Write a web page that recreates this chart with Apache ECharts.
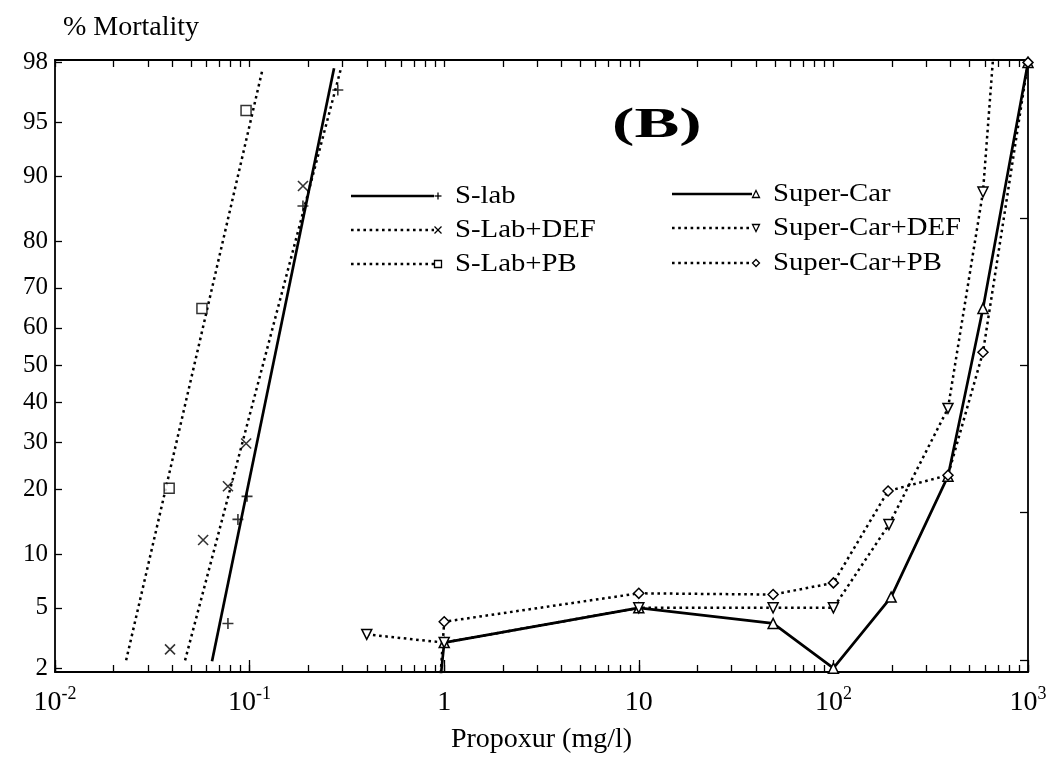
<!DOCTYPE html>
<html>
<head>
<meta charset="utf-8">
<script src="https://cdn.jsdelivr.net/npm/echarts@6/dist/echarts.min.js"></script>
<style>
  html, body { margin: 0; padding: 0; background: #fff; }
  #chart { width: 1061px; height: 763px; }
</style>
</head>
<body>
<div id="chart"></div>
<script>
// Propoxur dose (mg/l) against % mortality for each strain / synergist combination

// S-lab: observed points and fitted probit line
const sLabDose = [0.0774, 0.0871, 0.097, 0.188, 0.284];
const sLabMort = [4, 14.8, 18.7, 86, 96.9];
const sLabFitDose = [0.0641, 0.2716];
const sLabFitMort = [2.24, 97.8];

// S-Lab+DEF
const sLabDefDose = [0.039, 0.0577, 0.0774, 0.096, 0.188];
const sLabDefMort = [2.7, 11.8, 20.6, 29.8, 88.8];
const sLabDefFitDose = [0.0466, 0.295];
const sLabDefFitMort = [2.27, 97.8];

// S-Lab+PB
const sLabPbDose = [0.0386, 0.0569, 0.0959];
const sLabPbMort = [20.2, 65, 95.8];
const sLabPbFitDose = [0.0232, 0.116];
const sLabPbFitMort = [2.27, 97.7];

// Super-Car strains (points joined directly)
const superCarDose = [0.95, 1, 10, 49, 100, 198, 388, 587, 1000];
const superCarMort = [1.5, 3, 5, 4, 2, 5.8, 22.6, 65, 98];

const superCarDefDose = [0.4, 1, 10, 49, 100, 193, 388, 587, 700];
const superCarDefMort = [3.4, 3, 5, 5, 5, 14, 38.5, 88, 99.4];

const superCarPbDose = [0.95, 1, 10, 49, 100, 191, 388, 587, 1000];
const superCarPbMort = [1.5, 4.1, 6.1, 6, 7, 19.7, 22.8, 53.5, 98];

// Axis ticks
const xDecades = [0.01, 0.1, 1, 10, 100, 1000];
const yTickPercents = [2, 5, 10, 20, 30, 40, 50, 60, 70, 80, 90, 95, 98];
const probitUnitTicks = [-2, -1, 0, 1];

// Inverse standard normal CDF (Acklam), used for the probit mortality scale
function probit(pct) {
  const p = pct / 100;
  const a = [-3.969683028665376e+01, 2.209460984245205e+02, -2.759285104469687e+02, 1.383577518672690e+02, -3.066479806614716e+01, 2.506628277459239e+00];
  const b = [-5.447609879822406e+01, 1.615858368580409e+02, -1.556989798598866e+02, 6.680131188771972e+01, -1.328068155288572e+01];
  const c = [-7.784894002430293e-03, -3.223964580411365e-01, -2.400758277161838e+00, -2.549732539343734e+00, 4.374664141464968e+00, 2.938163982698783e+00];
  const d = [7.784695709041462e-03, 3.224671290700398e-01, 2.445134137142996e+00, 3.754408661907416e+00];
  const plow = 0.02425, phigh = 1 - plow;
  let q, r;
  if (p < plow) {
    q = Math.sqrt(-2 * Math.log(p));
    return (((((c[0]*q+c[1])*q+c[2])*q+c[3])*q+c[4])*q+c[5]) / ((((d[0]*q+d[1])*q+d[2])*q+d[3])*q+1);
  }
  if (p > phigh) {
    q = Math.sqrt(-2 * Math.log(1 - p));
    return -(((((c[0]*q+c[1])*q+c[2])*q+c[3])*q+c[4])*q+c[5]) / ((((d[0]*q+d[1])*q+d[2])*q+d[3])*q+1);
  }
  q = p - 0.5; r = q * q;
  return (((((a[0]*r+a[1])*r+a[2])*r+a[3])*r+a[4])*r+a[5])*q / (((((b[0]*r+b[1])*r+b[2])*r+b[3])*r+b[4])*r+1);
}

function pairs(xs, ys) { return xs.map((x, i) => [x, probit(ys[i])]); }

const xMinorTicks = [];
xDecades.forEach(function (dec, i) {
  xMinorTicks.push(dec);
  if (i < xDecades.length - 1) for (let k = 2; k <= 9; k++) xMinorTicks.push(+(k * dec).toPrecision(3));
});
const yTickProbits = yTickPercents.map(probit);

const FONT = 'Liberation Serif';
const BLACK = '#000';
const dotted = { color: BLACK, width: 2.5, type: [2.6, 3.6] };
const solid = { color: BLACK, width: 2.7 };

const SYM_PLUS = 'path://M0,5L10,5M5,0L5,10';
const SYM_CROSS = 'path://M0,0L10,10M10,0L0,10';
const SYM_DIAMOND = 'path://M5,0L10,5L5,10L0,5Z';

const strokeMark = { color: BLACK, borderColor: BLACK, borderWidth: 1.6 };
const hollowMark = { color: '#fff', borderColor: BLACK, borderWidth: 1.5 };

const series = [
  // fitted probit lines for the S-lab groups
  { name: 'S-lab', type: 'line', data: pairs(sLabFitDose, sLabFitMort), showSymbol: false, lineStyle: solid, z: 2 },
  { name: 'S-Lab+DEF', type: 'line', data: pairs(sLabDefFitDose, sLabDefFitMort), showSymbol: false, lineStyle: dotted, z: 2 },
  { name: 'S-Lab+PB', type: 'line', data: pairs(sLabPbFitDose, sLabPbFitMort), showSymbol: false, lineStyle: dotted, z: 2 },
  // observed S-lab points
  { name: 'S-lab pts', type: 'scatter', data: pairs(sLabDose, sLabMort), symbol: SYM_PLUS, symbolSize: 11, itemStyle: strokeMark, z: 3 },
  { name: 'S-Lab+DEF pts', type: 'scatter', data: pairs(sLabDefDose, sLabDefMort), symbol: SYM_CROSS, symbolSize: 10, itemStyle: strokeMark, z: 3 },
  { name: 'S-Lab+PB pts', type: 'scatter', data: pairs(sLabPbDose, sLabPbMort), symbol: 'rect', symbolSize: 10, itemStyle: hollowMark, z: 3 },
  // Super-Car groups
  { name: 'Super-Car', type: 'line', data: pairs(superCarDose, superCarMort), symbol: 'triangle', symbolSize: 10, showAllSymbol: true, lineStyle: solid, itemStyle: hollowMark, z: 3 },
  { name: 'Super-Car+DEF', type: 'line', data: pairs(superCarDefDose, superCarDefMort), symbol: 'triangle', symbolRotate: 180, symbolSize: 10, showAllSymbol: true, lineStyle: dotted, itemStyle: hollowMark, z: 3 },
  { name: 'Super-Car+PB', type: 'line', data: pairs(superCarPbDose, superCarPbMort), symbol: SYM_DIAMOND, symbolSize: 10, showAllSymbol: true, lineStyle: dotted, itemStyle: hollowMark, z: 3 }
];

// Hand-placed key: line sample with the marker at its right end
const legendRows = [
  { label: 'S-lab', x1: 351, x2: 434, y: 196, dash: false, mark: 'plus' },
  { label: 'S-Lab+DEF', x1: 351, x2: 434, y: 230, dash: true, mark: 'cross' },
  { label: 'S-Lab+PB', x1: 351, x2: 434, y: 264, dash: true, mark: 'square' },
  { label: 'Super-Car', x1: 672, x2: 752, y: 194, dash: false, mark: 'up' },
  { label: 'Super-Car+DEF', x1: 672, x2: 752, y: 228, dash: true, mark: 'down' },
  { label: 'Super-Car+PB', x1: 672, x2: 752, y: 263, dash: true, mark: 'diamond' }
];

function legendGraphics() {
  const out = [];
  legendRows.forEach(function (r) {
    out.push({
      type: 'line', shape: { x1: r.x1, y1: r.y, x2: r.x2, y2: r.y },
      style: r.dash ? { stroke: BLACK, lineWidth: 2.3, lineDash: [2.6, 3.6] } : { stroke: BLACK, lineWidth: 2.7 }
    });
    const mx = r.x2 + 4, my = r.y, s = 3.5;
    const ms = { stroke: BLACK, lineWidth: 1.3, fill: '#fff' };
    if (r.mark === 'plus') {
      out.push({ type: 'line', shape: { x1: mx - s, y1: my, x2: mx + s, y2: my }, style: { stroke: BLACK, lineWidth: 1.3 } });
      out.push({ type: 'line', shape: { x1: mx, y1: my - s, x2: mx, y2: my + s }, style: { stroke: BLACK, lineWidth: 1.3 } });
    } else if (r.mark === 'cross') {
      out.push({ type: 'line', shape: { x1: mx - s, y1: my - s, x2: mx + s, y2: my + s }, style: { stroke: BLACK, lineWidth: 1.3 } });
      out.push({ type: 'line', shape: { x1: mx + s, y1: my - s, x2: mx - s, y2: my + s }, style: { stroke: BLACK, lineWidth: 1.3 } });
    } else if (r.mark === 'square') {
      out.push({ type: 'rect', shape: { x: mx - s, y: my - s, width: 2 * s, height: 2 * s }, style: ms });
    } else if (r.mark === 'up') {
      out.push({ type: 'polygon', shape: { points: [[mx, my - s], [mx + s, my + s], [mx - s, my + s]] }, style: ms });
    } else if (r.mark === 'down') {
      out.push({ type: 'polygon', shape: { points: [[mx - s, my - s], [mx + s, my - s], [mx, my + s]] }, style: ms });
    } else {
      out.push({ type: 'polygon', shape: { points: [[mx, my - s], [mx + s, my], [mx, my + s], [mx - s, my]] }, style: ms });
    }
    out.push({
      type: 'text', x: mx + 17, y: my, scaleX: 1.15,
      style: { text: r.label, font: '25px "' + FONT + '"', fill: BLACK, verticalAlign: 'middle', textAlign: 'left' }
    });
  });
  // panel tag
  out.push({
    type: 'text', x: 612, y: 126, scaleX: 1.6,
    style: { text: '(B)', font: 'bold 42px "' + FONT + '"', fill: BLACK, verticalAlign: 'middle', textAlign: 'left' }
  });
  return out;
}

function decadeLabel(v) {
  const e = Math.round(Math.log10(v));
  if (e === 0) return '{b|1}';
  if (e === 1) return '{b|10}';
  return '{b|10}{sup|' + e + '}';
}

const axisLine = { show: true, onZero: false, lineStyle: { color: BLACK, width: 1.8 } };
const tickLine = { color: BLACK, width: 1.3 };

const option = {
  backgroundColor: '#fff',
  animation: false,
  textStyle: { fontFamily: FONT, color: BLACK },
  grid: { left: 55, right: 33, top: 60, bottom: 91, containLabel: false },
  xAxis: [
    {
      type: 'log', logBase: 10, min: 0.01, max: 1000, position: 'bottom',
      name: 'Propoxur (mg/l)', nameLocation: 'middle', nameGap: 54,
      nameTextStyle: { fontFamily: FONT, fontSize: 28, color: BLACK },
      axisLine: axisLine,
      axisTick: { show: true, inside: true, length: 7, customValues: xMinorTicks, lineStyle: tickLine },
      axisLabel: {
        show: true, margin: 13, customValues: xDecades, formatter: decadeLabel,
        rich: {
          b: { fontFamily: FONT, fontSize: 28, color: BLACK, lineHeight: 32, verticalAlign: 'bottom' },
          sup: { fontFamily: FONT, fontSize: 18, color: BLACK, lineHeight: 16, verticalAlign: 'top' }
        }
      },
      splitLine: { show: false }, minorTick: { show: false }
    },
    {
      type: 'log', logBase: 10, min: 0.01, max: 1000, position: 'top',
      axisLine: axisLine,
      axisTick: { show: true, inside: true, length: 7, customValues: xMinorTicks, lineStyle: tickLine },
      axisLabel: { show: false },
      splitLine: { show: false }
    },
    {
      // longer ticks marking each decade along the bottom edge
      type: 'log', logBase: 10, min: 0.01, max: 1000, position: 'bottom',
      axisLine: { show: false, onZero: false },
      axisTick: { show: true, inside: true, length: 12, customValues: xDecades, lineStyle: tickLine },
      axisLabel: { show: false },
      splitLine: { show: false }
    }
  ],
  yAxis: [
    {
      type: 'value', min: -2.08, max: 2.07, position: 'left',
      name: '% Mortality', nameLocation: 'end', nameGap: 18,
      nameTextStyle: { fontFamily: FONT, fontSize: 28, color: BLACK, align: 'left', padding: [0, 0, 0, 8] },
      axisLine: axisLine,
      axisTick: { show: true, inside: true, length: 7, customValues: yTickProbits, lineStyle: tickLine },
      axisLabel: {
        show: true, margin: 7, customValues: yTickProbits,
        fontFamily: FONT, fontSize: 25, color: BLACK,
        formatter: function (v) {
          for (let i = 0; i < yTickProbits.length; i++) {
            if (Math.abs(yTickProbits[i] - v) < 1e-6) return String(yTickPercents[i]);
          }
          return '';
        }
      },
      splitLine: { show: false }
    },
    {
      type: 'value', min: -2.08, max: 2.07, position: 'right',
      axisLine: axisLine,
      axisTick: { show: true, inside: true, length: 8, customValues: probitUnitTicks, lineStyle: tickLine },
      axisLabel: { show: false },
      splitLine: { show: false }
    }
  ],
  series: series,
  graphic: legendGraphics()
};

const chart = echarts.init(document.getElementById('chart'), null, { renderer: 'canvas' });
chart.setOption(option);
</script>
</body>
</html>
